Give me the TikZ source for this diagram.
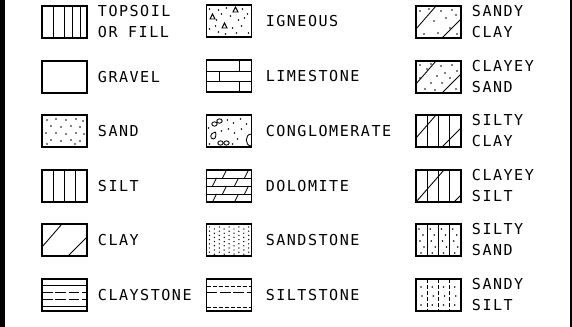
\documentclass[tikz,border=0pt]{standalone}
\usepackage{fontspec}
\newfontfamily\plotfont[LetterSpace=10]{DejaVu Sans Mono}
\usetikzlibrary{positioning}
\tikzset{
  x=0.75pt, y=-0.75pt,
  font=\plotfont\fontsize{11.3}{15.75}\selectfont,
  soil/.style ={draw, line width=1.1pt, minimum width=33.75pt, minimum height=24pt, inner sep=0pt, outer sep=0pt},
  lab/.style  ={align=left, inner sep=0pt},
  hatch/.style={line width=0.65pt},
  broken/.style={hatch, dash pattern=on 8pt off 2pt},
  short/.style={hatch, dash pattern=on 3pt off 1.5pt},
}
% patterns are drawn in box coordinates: 45 wide, 32 high, y going down
\newcommand\inbox[2]{\begin{scope}[shift={(#1.north west)}]#2\end{scope}}
\newcommand\grains[1]{\foreach \p in {#1} \fill \p circle[radius=0.6pt];}
\newcommand\quarters{\foreach \q in {11.25,22.5,33.75} \draw[hatch] (\q,0) -- (\q,32);}
\newcommand\claylines{\draw[hatch] (0,23) -- (20,0) (26,32) -- (45,13);}

\begin{document}
\begin{tikzpicture}
  \useasboundingbox (0,0) rectangle (572,327);
  \fill (0,0) rectangle (5,327);
  \draw[line width=0.8pt] (571,0) -- (571,327);

  % first column
  \node[soil] (topsoil)   at (64.5,22)  {};
  \node[soil] (gravel)    at (64.5,77)  {};
  \node[soil] (sand)      at (64.5,131) {};
  \node[soil] (silt)      at (64.5,186) {};
  \node[soil] (clay)      at (64.5,240) {};
  \node[soil] (claystone) at (64.5,295) {};
  \node[lab, right=8pt of topsoil]   (l-topsoil)   {TOPSOIL\\OR FILL};
  \node[lab, right=8pt of gravel]    (l-gravel)    {GRAVEL};
  \node[lab, right=8pt of sand]      (l-sand)      {SAND};
  \node[lab, right=8pt of silt]      (l-silt)      {SILT};
  \node[lab, right=8pt of clay]      (l-clay)      {CLAY};
  \node[lab, right=8pt of claystone] (l-claystone) {CLAYSTONE};

  \inbox{topsoil}{\foreach \q in {11,22,30,38} \draw[hatch] (\q,0) -- (\q,32);}
  \inbox{sand}{\grains{(5,5),(14,4),(24,5),(34,4),(41,6),(9,11),(19,12),(29,11),(38,12),
    (4,18),(14,18),(24,19),(34,18),(42,19),(9,25),(19,26),(29,25),(38,26),(5,29),(33,29)}}
  \inbox{silt}{\quarters}
  \inbox{clay}{\claylines}
  \inbox{claystone}{\draw[hatch] (0,6) -- (45,6) (0,27) -- (45,27);
    \draw[broken] (0,13) -- (45,13) (0,20) -- (45,20);}

  % second column
  \node[soil] (igneous)   at (229,21)  {};
  \node[soil] (limestone) at (229,76)  {};
  \node[soil] (conglom)   at (229,131) {};
  \node[soil] (dolomite)  at (229,186) {};
  \node[soil] (sandstone) at (229,240) {};
  \node[soil] (siltstone) at (229,295) {};
  \node[lab, right=10.5pt of igneous]   (l-igneous)   {IGNEOUS};
  \node[lab, right=10.5pt of limestone] (l-limestone) {LIMESTONE};
  \node[lab, right=10.5pt of conglom]   (l-conglom)   {CONGLOMERATE};
  \node[lab, right=10.5pt of dolomite]  (l-dolomite)  {DOLOMITE};
  \node[lab, right=10.5pt of sandstone] (l-sandstone) {SANDSTONE};
  \node[lab, right=10.5pt of siltstone] (l-siltstone) {SILTSTONE};

  \inbox{igneous}{\foreach \p in {(29,2),(18,18),(6,9)} \draw[line width=0.7pt] \p -- ++(-2.5,5) -- ++(5,0) -- cycle;
    \grains{(3,4),(12,5),(20,3),(36,4),(41,9),(10,15),(24,11),(32,15),(3,24),(12,27),
      (26,23),(35,21),(42,28),(19,29),(30,28),(9,21),(38,13),(15,9)}}
  \inbox{limestone}{\draw[hatch] (0,11) -- (45,11) (0,21) -- (45,21)
    (33,0) -- (33,11) (13,11) -- (13,21) (33,21) -- (33,32);}
  \inbox{conglom}{\foreach \p in {(8,9),(13,6),(14,28),(20,28)} \draw[hatch] \p circle[x radius=2pt, y radius=1.6pt];
    \draw[hatch] (9,17) .. controls (3,18) and (3,24) .. (7,24) .. controls (9,24) and (10,20) .. (9,17);
    \draw[hatch] (45,19) .. controls (38,19) and (38,31) .. (45,31);
    \grains{(21,5),(27,8),(34,4),(40,9),(22,14),(28,18),(35,14),(2,13),(15,16),(31,24),(26,29),(3,29)}}
  \inbox{dolomite}{\draw[hatch] (0,8) -- (45,8) (0,16) -- (45,16) (0,24) -- (45,24);
    \foreach \a/\b in {18/0,40/0,8/8,30/8,18/16,40/16,8/24,30/24} \draw[hatch] (\a-2,\b+8) -- (\a+2,\b);}
  \inbox{sandstone}{\foreach \i in {0,...,8} \foreach \j in {0,...,6}
    \fill ({3+4.9*\i},{3+4.2*\j+mod(\i,2)*2}) circle[radius=0.55pt];}
  \inbox{siltstone}{\draw[short] (0,7) -- (45,7) (0,28) -- (45,28);
    \draw[broken] (0,13) -- (45,13);}

  % third column
  \node[soil] (sandyclay)  at (438.5,22)  {};
  \node[soil] (clayeysand) at (438.5,77)  {};
  \node[soil] (siltyclay)  at (438.5,131) {};
  \node[soil] (clayeysilt) at (438.5,186) {};
  \node[soil] (siltysand)  at (438.5,240) {};
  \node[soil] (sandysilt)  at (438.5,295) {};
  \node[lab, right=8pt of sandyclay]  (l-sandyclay)  {SANDY\\CLAY};
  \node[lab, right=8pt of clayeysand] (l-clayeysand) {CLAYEY\\SAND};
  \node[lab, right=8pt of siltyclay]  (l-siltyclay)  {SILTY\\CLAY};
  \node[lab, right=8pt of clayeysilt] (l-clayeysilt) {CLAYEY\\SILT};
  \node[lab, right=8pt of siltysand]  (l-siltysand)  {SILTY\\SAND};
  \node[lab, right=8pt of sandysilt]  (l-sandysilt)  {SANDY\\SILT};

  \inbox{sandyclay}{\claylines \grains{(4,5),(13,3),(25,5),(36,4),(30,12),(40,9),(18,15),(8,28),(22,27),(34,22),(41,28)}}
  \inbox{clayeysand}{\claylines \grains{(4,4),(11,8),(15,3),(25,5),(36,4),(29,12),(41,10),(21,15),(34,17),
    (15,22),(26,22),(9,28),(19,29),(40,28),(4,17)}}
  \inbox{siltyclay}{\quarters \claylines}
  \inbox{clayeysilt}{\quarters \draw[hatch] (0,32) -- (28,0) (38,32) -- (45,25);}
  \inbox{siltysand}{\quarters \foreach \i in {0,...,3} \foreach \a/\b in {3/5,7/11,4/17,8/23,5/29}
    \fill ({11.25*\i+\a},\b) circle[radius=0.6pt];}
  \inbox{sandysilt}{\foreach \q in {11.25,22.5,33.75} \draw[short] (\q,0) -- (\q,32);
    \foreach \i in {0,...,3} \foreach \a/\b in {5/8,6/17,5/26} \fill ({11.25*\i+\a},\b) circle[radius=0.6pt];}
\end{tikzpicture}
\end{document}
